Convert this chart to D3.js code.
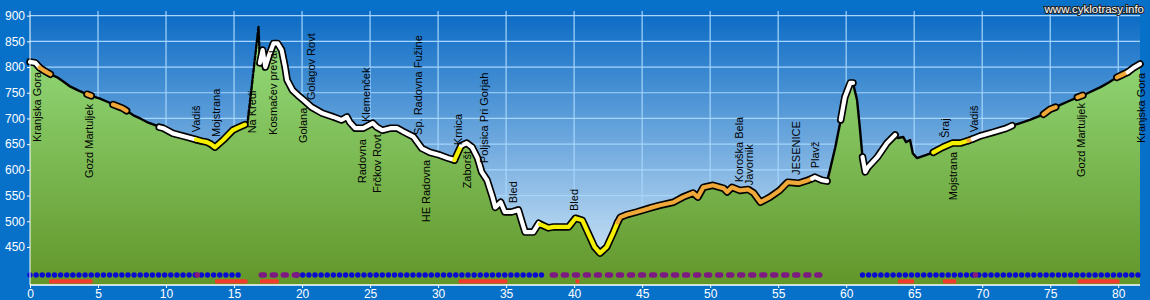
<!DOCTYPE html>
<html>
<head>
<meta charset="utf-8">
<script src="https://cdn.jsdelivr.net/npm/d3@7"></script>
<style>
  html, body { margin: 0; padding: 0; background: #0771ca; }
  svg { display: block; font-family: "Liberation Sans", Arial, sans-serif; }
</style>
</head>
<body>
<div id="chart"></div>
<script>
// Route profile: distance (km) and altitude (m)
var km = [
  0, 0.4, 0.7, 1.1, 1.5, 2.0, 2.5, 2.9, 3.5, 4.2,
  4.5, 5.1, 5.9, 6.1, 6.8, 7.1, 7.6, 8.1, 8.6, 9.3,
  9.5, 9.8, 10.5, 11.5, 12.2, 12.6, 13.0, 13.3, 13.6, 14.2,
  14.9, 15.3, 15.8, 16.0, 16.8, 16.9, 17.1, 17.3, 17.5, 17.9,
  18.2, 18.5, 18.75, 18.9, 19.3, 19.7, 20.1, 20.7, 21.5, 22.3,
  22.9, 23.3, 23.5, 23.9, 24.5, 25.2, 25.5, 25.9, 26.5, 27.0,
  27.4, 28.2, 28.8, 29.4, 30.1, 30.7, 31.2, 31.6, 31.7, 32.1,
  32.5, 32.9, 33.2, 33.6, 34.0, 34.2, 34.6, 34.9, 35.4, 35.9,
  36.2, 36.4, 37.0, 37.4, 37.5, 37.7, 38.1, 38.5, 39.1, 39.6,
  40.1, 40.6, 41.0, 41.5, 41.9, 42.4, 42.9, 43.2, 43.4, 43.9,
  44.6, 45.6, 46.3, 47.3, 48.0, 48.75, 49.1, 49.5, 50.2, 51.0,
  51.25, 51.6, 52.2, 52.8, 53.2, 53.7, 54.4, 55.1, 55.7, 56.5,
  57.2, 57.5, 57.7, 58.2, 58.6, 58.8, 59.2, 59.6, 59.9, 60.3,
  60.5, 60.8, 61.0, 61.2, 61.4, 61.6, 62.3, 63.0, 63.6, 63.8,
  64.2, 64.4, 64.7, 64.9, 65.2, 65.9, 66.4, 67.1, 67.8, 68.4,
  69.0, 69.3, 69.85, 70.8, 71.8, 72.2, 72.8, 73.5, 74.5, 75.0,
  75.4, 75.7, 76.3, 77.0, 77.4, 77.9, 78.7, 79.3, 79.9, 80.3,
  80.7, 81.1, 81.6
];
var altitude = [
  810, 808, 799, 792, 786, 780, 771, 763, 755, 747,
  744, 739, 730, 727, 720, 715, 706, 700, 693, 686,
  683, 681, 671, 664, 659, 656, 654, 650, 644, 658,
  677, 682, 688, 693, 878, 808, 833, 800, 817, 846,
  846, 833, 800, 775, 755, 745, 736, 722, 710, 703,
  697, 703, 693, 681, 681, 691, 683, 677, 681, 681,
  675, 664, 642, 634, 629, 623, 619, 642, 647, 652,
  644, 623, 596, 580, 547, 527, 537, 518, 518, 522,
  496, 479, 479, 496, 494, 492, 487, 489, 489, 489,
  506, 502, 479, 450, 438, 450, 479, 498, 508, 513,
  518, 526, 531, 537, 547, 555, 547, 566, 570, 564,
  557, 566, 560, 562, 555, 537, 547, 560, 576, 574,
  580, 583, 586, 580, 578, 599, 644, 697, 741, 769,
  769, 736, 683, 625, 596, 605, 625, 652, 668, 662,
  664, 654, 658, 632, 623, 629, 634, 644, 652, 652,
  657, 660, 666, 673, 681, 686, 691, 697, 708, 718,
  722, 726, 733, 741, 745, 751, 761, 770, 780, 785,
  790, 798, 806
];

// Surface type of each stretch of the route
var segFrom = [0, 0.7, 1.5, 4.2, 4.5, 6.1, 7.1, 9.5, 12.2, 15.8, 16.9, 31.2, 31.7, 37.5, 43.2,
  57.5, 58.6, 59.6, 60.5, 61.2, 63.6, 66.4, 69.0, 69.3, 72.2, 74.5, 75.4, 77.0, 77.4, 79.9, 80.7];
var segTo = [0.7, 1.5, 4.2, 4.5, 6.1, 7.1, 9.5, 12.2, 15.8, 16.9, 31.2, 31.7, 37.5, 43.2, 57.5,
  58.6, 59.6, 60.5, 61.2, 63.6, 66.4, 69.0, 69.3, 72.2, 74.5, 75.4, 77.0, 77.4, 79.9, 80.7, 81.6];
var segType = ["white", "orange", "black", "orange", "black", "orange", "black", "white", "yellow", "dash",
  "white", "yellow", "white", "yellow", "orange", "white", "black", "white", "black", "white",
  "black", "yellow", "orange", "white", "black", "orange", "black", "orange", "black", "orange", "white"];

// Places along the route
var placeNames = ["Kranjska Gora", "Gozd Martuljek", "Vadiš", "Mojstrana", "Na Kredi", "Kosmačev preval",
  "Golana", "Golagov Rovt", "Radovna", "Klemenček", "Frčkov Rovt", "Sp. Radovna Fužine", "HE Radovna",
  "Krnica", "Zaboršt", "Poljsica Pri Gorjah", "Bled", "Bled", "Koroška Bela", "Javornik", "JESENICE",
  "Plavž", "Šraj", "Mojstrana", "Vadiš", "Gozd Martuljek", "Kranjska Gora"];
var placeKm = [0.5, 4.35, 12.2, 13.7, 16.3, 17.9, 20.1, 20.7, 24.4, 24.7, 25.5, 28.5, 29.1,
  31.5, 32.1, 33.4, 35.5, 40.0, 52.1, 52.9, 56.3, 57.7, 67.3, 67.9, 69.4, 77.3, 81.7];
var placeAlt = [654, 584, 673, 664, 671, 668, 652, 736, 574, 693, 555, 668, 498,
  648, 564, 613, 535, 520, 576, 570, 590, 603, 662, 541, 673, 586, 652];

// Markers under the profile
var dotRuns = [[0, 15.7], [19.6, 38.0], [61.2, 81.7]];
var pillRuns = [[16.8, 19.5], [38.2, 57.9]];
var mixDots = [12.3, 69.5];
var redBars = [[1.4, 4.6], [13.6, 16.0], [16.9, 18.3], [31.5, 35.1], [40.1, 40.4],
  [63.8, 65.0], [67.1, 68.1], [77.0, 80.1]];

var xTicks = d3.range(0, 81, 5);
var yTicks = [450, 500, 550, 600, 650, 700, 750, 800, 850, 900];

var svgWidth = 1150;
var svgHeight = 300;
var plot = { left: 30, right: 1140, top: 11, bottom: 285 };

var svg = d3.select("#chart").append("svg")
  .attr("width", svgWidth)
  .attr("height", svgHeight);

var x = d3.scaleLinear().domain([0, 81.6]).range([plot.left, plot.right]);
var y = d3.scaleLinear().domain([376, 909]).range([plot.bottom, plot.top]);

var defs = svg.append("defs");
var sky = defs.append("linearGradient").attr("id", "sky")
  .attr("gradientUnits", "userSpaceOnUse")
  .attr("x1", 0).attr("y1", plot.top).attr("x2", 0).attr("y2", plot.bottom);
sky.append("stop").attr("offset", 0).attr("stop-color", "#0a6ac4");
sky.append("stop").attr("offset", 1).attr("stop-color", "#dcedfa");

var grass = defs.append("linearGradient").attr("id", "grass")
  .attr("gradientUnits", "userSpaceOnUse")
  .attr("x1", 0).attr("y1", 30).attr("x2", 0).attr("y2", plot.bottom);
grass.append("stop").attr("offset", 0).attr("stop-color", "#96de7e");
grass.append("stop").attr("offset", 1).attr("stop-color", "#62962a");

svg.append("rect")
  .attr("width", svgWidth).attr("height", svgHeight)
  .attr("fill", "#0771ca");

svg.append("rect")
  .attr("x", plot.left).attr("y", plot.top)
  .attr("width", plot.right - plot.left).attr("height", plot.bottom - plot.top)
  .attr("fill", "url(#sky)");

// grid
svg.append("g").selectAll("line.h")
  .data(yTicks).enter().append("line")
  .attr("x1", plot.left).attr("x2", plot.right)
  .attr("y1", d => y(d)).attr("y2", d => y(d))
  .attr("stroke", "#a6d6fb").attr("stroke-width", 1.2);
svg.append("g").selectAll("line.v")
  .data(xTicks.filter(d => d > 0)).enter().append("line")
  .attr("x1", d => x(d)).attr("x2", d => x(d))
  .attr("y1", plot.top).attr("y2", plot.bottom)
  .attr("stroke", "#a6d6fb").attr("stroke-width", 1.2);

var profile = km.map((k, i) => ({ km: k, alt: altitude[i] }));

var area = d3.area()
  .x(d => x(d.km))
  .y0(plot.bottom)
  .y1(d => y(d.alt));

svg.append("path")
  .datum(profile)
  .attr("d", area)
  .attr("fill", "url(#grass)");

var line = d3.line().x(d => x(d.km)).y(d => y(d.alt));

var segments = segType.map((t, i) => ({
  type: t,
  pts: profile.filter(p => p.km >= segFrom[i] - 1e-6 && p.km <= segTo[i] + 1e-6)
}));

var colours = { white: "#ffffff", yellow: "#f5f000", orange: "#f0a838" };

var lineGroup = svg.append("g")
  .attr("fill", "none")
  .attr("stroke-linejoin", "round")
  .attr("stroke-linecap", "round");

lineGroup.selectAll("path.thin")
  .data(segments.filter(s => s.type === "black" || s.type === "dash"))
  .enter().append("path")
  .attr("d", s => line(s.pts))
  .attr("stroke", "#000")
  .attr("stroke-width", 2.4)
  .attr("stroke-dasharray", s => s.type === "dash" ? "4,2" : null);

var thick = segments.filter(s => colours[s.type]);
lineGroup.selectAll("path.outline")
  .data(thick).enter().append("path")
  .attr("d", s => line(s.pts))
  .attr("stroke", "#000")
  .attr("stroke-width", 7.5);
lineGroup.selectAll("path.core")
  .data(thick).enter().append("path")
  .attr("d", s => line(s.pts))
  .attr("stroke", s => colours[s.type])
  .attr("stroke-width", 4.2);

// place names
svg.append("g").selectAll("text")
  .data(placeNames).enter().append("text")
  .attr("transform", (d, i) => `translate(${x(placeKm[i])}, ${y(placeAlt[i])}) rotate(-90)`)
  .attr("dy", "0.35em")
  .attr("font-size", "11px")
  .attr("fill", "#000")
  .text(d => d);

// markers
var markGroup = svg.append("g");
dotRuns.forEach(function(r) {
  markGroup.selectAll(null)
    .data(d3.range(r[0], r[1], 0.45)).enter().append("circle")
    .attr("cx", d => x(d)).attr("cy", 275).attr("r", 2.7)
    .attr("fill", "#0a0ad0");
});
pillRuns.forEach(function(r) {
  markGroup.selectAll(null)
    .data(d3.range(r[0], r[1], 0.81)).enter().append("rect")
    .attr("x", d => x(d)).attr("y", 272.3)
    .attr("width", 8.5).attr("height", 5.4).attr("rx", 2.7)
    .attr("fill", "#7d1a82");
});
markGroup.selectAll("circle.mix")
  .data(mixDots).enter().append("circle")
  .attr("cx", d => x(d)).attr("cy", 275).attr("r", 2.8)
  .attr("fill", "#8a1878");
markGroup.selectAll("rect.red")
  .data(redBars).enter().append("rect")
  .attr("x", d => x(d[0])).attr("y", 279.2)
  .attr("width", d => x(d[1]) - x(d[0])).attr("height", 4.4)
  .attr("rx", 1.5)
  .attr("fill", "#f03c2a");

// axes
var leftAxis = d3.axisLeft(y).tickValues(yTicks).tickSize(3).tickPadding(2);
var yAxis = svg.append("g")
  .attr("transform", `translate(${plot.left}, 0)`)
  .call(leftAxis);
yAxis.select(".domain").remove();
yAxis.append("line").attr("x1", 0).attr("x2", 0)
  .attr("y1", plot.top).attr("y2", plot.bottom)
  .attr("stroke", "#fff");

var bottomAxis = d3.axisBottom(x).tickValues(xTicks).tickSize(3).tickPadding(1);
var xAxis = svg.append("g")
  .attr("transform", `translate(0, ${plot.bottom})`)
  .call(bottomAxis);
xAxis.select(".domain").remove();
xAxis.append("line").attr("x1", plot.left).attr("x2", plot.right)
  .attr("y1", 0).attr("y2", 0).attr("stroke", "#fff").attr("stroke-width", 1.5);

svg.selectAll(".tick line").attr("stroke", "#fff");
svg.selectAll(".tick text")
  .attr("fill", "#fff")
  .attr("font-size", "12px")
  .attr("font-family", "'Liberation Sans', Arial, sans-serif");

svg.append("text")
  .attr("x", 1144).attr("y", 13)
  .attr("text-anchor", "end")
  .attr("font-size", "11.5px")
  .attr("fill", "#fff")
  .attr("stroke", "#222")
  .attr("stroke-width", 2)
  .attr("paint-order", "stroke")
  .text("www.cyklotrasy.info");
</script>
</body>
</html>
